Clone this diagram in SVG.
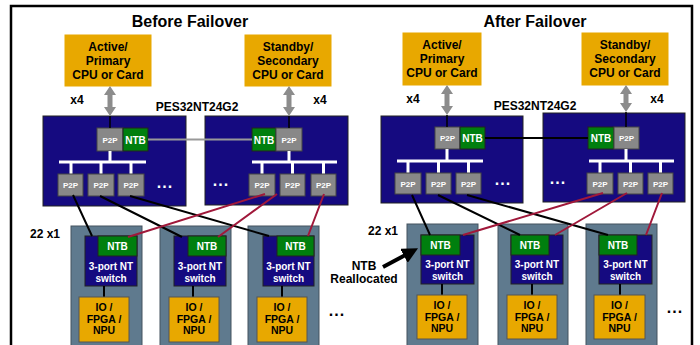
<svg xmlns="http://www.w3.org/2000/svg" width="700" height="345" viewBox="0 0 700 345">
<defs>
<style>
text{font-family:"Liberation Sans",Arial,sans-serif;font-weight:bold;text-anchor:middle}
.t{font-size:16px;fill:#000}
.cpu{fill:#E8A800;stroke:#E8A800}
.ct{font-size:12px;fill:#000}
.lbl{font-size:12px;fill:#000}
.sw{fill:#150A80;stroke:#222;stroke-width:1}
.p2p{fill:#888;stroke:#444;stroke-width:1}
.pt{font-size:8px;fill:#fff}
.ntb{fill:#007F0E;stroke:#222;stroke-width:1}
.nt{font-size:10px;fill:#fff}
.bus{stroke:#fff;stroke-width:3;fill:none}
.card{fill:#5F7A8E;stroke:#44525E;stroke-width:1}
.io{fill:#E8A800;stroke:#555;stroke-width:1}
.iot{font-size:10.5px;fill:#000}
.blk{stroke:#000;stroke-width:2;fill:none}
.red{stroke:#A0183A;stroke-width:2;fill:none}
.arr{fill:#8C8C8C}
.dots{font-size:16px;letter-spacing:1px}
</style>
<marker id="ah" markerWidth="4" markerHeight="4" refX="2" refY="2" orient="auto" markerUnits="strokeWidth"><path d="M0,0 L4,2 L0,4 z" fill="#000"/></marker>
</defs>
<rect width="700" height="345" fill="#fff"/>
<path d="M11,345 V6 H692 V345" fill="none" stroke="#000" stroke-width="2.5"/>

<text class="t" x="190" y="27">Before Failover</text>
<text class="t" x="535" y="27">After Failover</text>

<!-- Before Failover -->
<g id="cpuA1"><rect class="cpu" x="65" y="35" width="86" height="51"/><text class="ct" x="108" y="51">Active/</text><text class="ct" x="108" y="65">Primary</text><text class="ct" x="108" y="79">CPU or Card</text></g>
<g id="cpuS1"><rect class="cpu" x="245" y="35" width="86" height="51"/><text class="ct" x="288" y="51">Standby/</text><text class="ct" x="288" y="65">Secondary</text><text class="ct" x="288" y="79">CPU or Card</text></g>
<text class="lbl" x="77" y="104">x4</text>
<text class="lbl" x="320" y="104">x4</text>
<text class="lbl" x="197" y="111">PES32NT24G2</text>

<g id="swL1">
<rect class="sw" x="43" y="116" width="143" height="90"/>
<rect class="p2p" x="97" y="128" width="26" height="23"/><text class="pt" x="110" y="143">P2P</text>
<rect class="ntb" x="123" y="128" width="25" height="23"/><text class="nt" x="135.5" y="144">NTB</text>
<path class="bus" d="M110,151 V162 M59,162 H146 M71,162 V174 M101,162 V174 M131,162 V174"/>
<rect class="p2p" x="58" y="174" width="25" height="22"/><text class="pt" x="70.5" y="188">P2P</text>
<rect class="p2p" x="88" y="174" width="26" height="22"/><text class="pt" x="101" y="188">P2P</text>
<rect class="p2p" x="118" y="174" width="26" height="22"/><text class="pt" x="131" y="188">P2P</text>
<text class="dots" x="165" y="188" fill="#fff">...</text>
</g>
<g id="swR1">
<rect class="sw" x="205" y="116" width="143" height="89"/>
<rect class="ntb" x="252" y="128" width="24" height="23"/><text class="nt" x="264" y="144">NTB</text>
<rect class="p2p" x="276" y="128" width="26" height="23"/><text class="pt" x="289" y="143">P2P</text>
<path class="bus" d="M289,151 V162 M252,162 H337 M262,162 V174 M292.5,162 V174 M323.5,162 V174"/>
<rect class="p2p" x="249" y="174" width="26" height="22"/><text class="pt" x="262" y="188">P2P</text>
<rect class="p2p" x="280" y="174" width="25" height="22"/><text class="pt" x="292.5" y="188">P2P</text>
<rect class="p2p" x="311" y="174" width="25" height="22"/><text class="pt" x="323.5" y="188">P2P</text>
<text class="dots" x="221" y="186" fill="#fff">...</text>
</g>

<g id="card1a">
<rect class="card" x="71" y="226" width="71" height="130"/>
<rect class="sw" x="85" y="236" width="52" height="50"/>
<rect class="ntb" x="98" y="236" width="39" height="20"/><text class="nt" x="117.5" y="250">NTB</text>
<text class="nt" x="111" y="270">3-port NT</text><text class="nt" x="111" y="282">switch</text>
<path class="blk" d="M104,286 V297"/>
<rect class="io" x="79" y="297" width="50" height="45"/>
<text class="iot" x="104" y="311">IO /</text><text class="iot" x="104" y="322.5">FPGA /</text><text class="iot" x="104" y="334">NPU</text>
</g>
<g id="card2a">
<rect class="card" x="160" y="226" width="71" height="130"/>
<rect class="sw" x="174" y="236" width="52" height="50"/>
<rect class="ntb" x="188" y="236" width="38" height="20"/><text class="nt" x="207" y="250">NTB</text>
<text class="nt" x="200" y="270">3-port NT</text><text class="nt" x="200" y="282">switch</text>
<path class="blk" d="M193,286 V297"/>
<rect class="io" x="169" y="297" width="50" height="45"/>
<text class="iot" x="194" y="311">IO /</text><text class="iot" x="194" y="322.5">FPGA /</text><text class="iot" x="194" y="334">NPU</text>
</g>
<g id="card3a">
<rect class="card" x="248" y="226" width="71" height="130"/>
<rect class="sw" x="263" y="236" width="51" height="50"/>
<rect class="ntb" x="277" y="236" width="37" height="20"/><text class="nt" x="295.5" y="250">NTB</text>
<text class="nt" x="288.5" y="270">3-port NT</text><text class="nt" x="288.5" y="282">switch</text>
<path class="blk" d="M282,286 V297"/>
<rect class="io" x="257" y="297" width="50" height="45"/>
<text class="iot" x="282" y="311">IO /</text><text class="iot" x="282" y="322.5">FPGA /</text><text class="iot" x="282" y="334">NPU</text>
</g>
<text class="lbl" x="45" y="238">22 x1</text>
<text class="dots" x="337" y="316" fill="#000">...</text>

<!-- After Failover -->
<g id="cpuA2"><rect class="cpu" x="403" y="33" width="78" height="52"/><text class="ct" x="442" y="49">Active/</text><text class="ct" x="442" y="63">Primary</text><text class="ct" x="442" y="77">CPU or Card</text></g>
<g id="cpuS2"><rect class="cpu" x="582" y="33" width="86" height="52"/><text class="ct" x="625" y="49">Standby/</text><text class="ct" x="625" y="63">Secondary</text><text class="ct" x="625" y="77">CPU or Card</text></g>
<text class="lbl" x="413" y="103">x4</text>
<text class="lbl" x="657" y="103">x4</text>
<text class="lbl" x="535" y="110">PES32NT24G2</text>

<g id="swL2">
<rect class="sw" x="381" y="116" width="142" height="87"/>
<rect class="p2p" x="435" y="127" width="25" height="22"/><text class="pt" x="447.5" y="141">P2P</text>
<rect class="ntb" x="460" y="127" width="25" height="22"/><text class="nt" x="472.5" y="142">NTB</text>
<path class="bus" d="M447,149 V161 M397,161 H483 M408,161 V173 M438.5,161 V173 M468.5,161 V173"/>
<rect class="p2p" x="395" y="173" width="26" height="21"/><text class="pt" x="408" y="187">P2P</text>
<rect class="p2p" x="426" y="173" width="25" height="21"/><text class="pt" x="438.5" y="187">P2P</text>
<rect class="p2p" x="456" y="173" width="25" height="21"/><text class="pt" x="468.5" y="187">P2P</text>
<text class="dots" x="503" y="185" fill="#fff">...</text>
</g>
<g id="swR2">
<rect class="sw" x="543" y="113" width="142" height="89"/>
<rect class="ntb" x="588" y="127" width="26" height="22"/><text class="nt" x="601" y="142">NTB</text>
<rect class="p2p" x="614" y="127" width="25" height="22"/><text class="pt" x="626.5" y="141">P2P</text>
<path class="bus" d="M626,149 V161 M589,161 H674 M600,161 V173 M630.5,161 V173 M660.5,161 V173"/>
<rect class="p2p" x="587" y="173" width="26" height="21"/><text class="pt" x="600" y="187">P2P</text>
<rect class="p2p" x="618" y="173" width="25" height="21"/><text class="pt" x="630.5" y="187">P2P</text>
<rect class="p2p" x="648" y="173" width="25" height="21"/><text class="pt" x="660.5" y="187">P2P</text>
<text class="dots" x="558" y="184" fill="#fff">...</text>
</g>

<g id="card1b">
<rect class="card" x="407" y="224" width="71" height="130"/>
<rect class="sw" x="421" y="235" width="53" height="49"/>
<rect class="ntb" x="421" y="235" width="39" height="20"/><text class="nt" x="440.5" y="249">NTB</text>
<text class="nt" x="447.5" y="268">3-port NT</text><text class="nt" x="447.5" y="280">switch</text>
<path class="blk" d="M442,284 V295"/>
<rect class="io" x="417" y="295" width="50" height="44"/>
<text class="iot" x="442" y="309">IO /</text><text class="iot" x="442" y="320.5">FPGA /</text><text class="iot" x="442" y="332">NPU</text>
</g>
<g id="card2b">
<rect class="card" x="498" y="224" width="70" height="130"/>
<rect class="sw" x="511" y="235" width="52" height="49"/>
<rect class="ntb" x="511" y="235" width="38" height="20"/><text class="nt" x="530" y="249">NTB</text>
<text class="nt" x="537" y="268">3-port NT</text><text class="nt" x="537" y="280">switch</text>
<path class="blk" d="M532,284 V295"/>
<rect class="io" x="507" y="295" width="50" height="44"/>
<text class="iot" x="532" y="309">IO /</text><text class="iot" x="532" y="320.5">FPGA /</text><text class="iot" x="532" y="332">NPU</text>
</g>
<g id="card3b">
<rect class="card" x="586" y="224" width="71" height="130"/>
<rect class="sw" x="599" y="235" width="53" height="49"/>
<rect class="ntb" x="599" y="235" width="38" height="20"/><text class="nt" x="618" y="249">NTB</text>
<text class="nt" x="625.5" y="268">3-port NT</text><text class="nt" x="625.5" y="280">switch</text>
<path class="blk" d="M620,284 V295"/>
<rect class="io" x="594" y="295" width="51" height="44"/>
<text class="iot" x="619.5" y="309">IO /</text><text class="iot" x="619.5" y="320.5">FPGA /</text><text class="iot" x="619.5" y="332">NPU</text>
</g>
<text class="lbl" x="383" y="235">22 x1</text>
<text class="lbl" x="364" y="270">NTB</text>
<text class="lbl" x="364" y="283">Reallocated</text>
<text class="dots" x="675" y="313" fill="#000">...</text>

<g id="connectors">
<polygon class="arr" points="110,86 116,95 112.5,95 112.5,107 116,107 110,116 104,107 107.5,107 107.5,95 104,95"/>
<polygon class="arr" points="289,86 295,95 291.5,95 291.5,107 295,107 289,116 283,107 286.5,107 286.5,95 283,95"/>
<polygon class="arr" points="447,85 453,94 449.5,94 449.5,106 453,106 447,115 441,106 444.5,106 444.5,94 441,94"/>
<polygon class="arr" points="626,85 632,94 628.5,94 628.5,103 632,103 626,112 620,103 623.5,103 623.5,94 620,94"/>
<path class="blk" style="stroke-width:1.5" d="M110,116 V128 M289,116 V128 M447,115 V127 M626,112 V127"/>
<path d="M148,139.5 H252" stroke="#999" stroke-width="2"/>
<path class="blk" d="M485,138 H588"/>
<path class="blk" d="M73,195 L92,236 M100,196 L182,237 M130,196 L269,236"/>
<path class="red" d="M265,194 L128,237 M277,194 L218,237 M324,194 L308,236"/>
<path class="blk" d="M412,195 L430,235 M438,195 L520,235 M467,195 L608,235"/>
<path class="red" d="M603,193 L463,235 M627,193 L555,235 M662,193 L646,235"/>
<path d="M383,267 L411,252" stroke="#000" stroke-width="4" marker-end="url(#ah)"/>
</g>
</svg>
